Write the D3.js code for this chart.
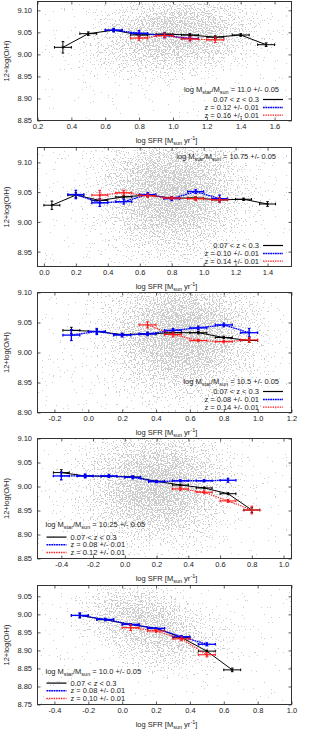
<!DOCTYPE html>
<html><head><meta charset="utf-8">
<script src="https://cdn.jsdelivr.net/npm/d3@7"></script>
<style>
body{margin:0;background:#fff}
svg{display:block}
text{font-family:"Liberation Sans",Arial,sans-serif;font-size:7.5px;fill:#222;white-space:pre}
</style>
</head><body>
<svg id="c" width="309" height="730"></svg>
<script>
// ---------- DATA: [logSFR, 12+log(O/H), yerr] ----------
const p1Black = [[0.35,9.016,0.013],[0.50,9.047,0.004],[0.65,9.055,0.003],[0.80,9.044,0.003],[0.95,9.046,0.003],[1.10,9.044,0.003],[1.25,9.039,0.003],[1.40,9.044,0.003],[1.55,9.022,0.004]];
const p1Blue  = [[0.65,9.055,0.004],[0.80,9.048,0.006],[0.95,9.043,0.005],[1.10,9.036,0.004]];
const p1Red   = [[0.80,9.037,0.005],[0.95,9.043,0.005],[1.10,9.035,0.005],[1.25,9.033,0.006]];

const p2Black = [[0.05,9.028,0.007],[0.20,9.045,0.004],[0.35,9.036,0.003],[0.50,9.042,0.002],[0.65,9.045,0.002],[0.80,9.040,0.002],[0.95,9.040,0.002],[1.10,9.037,0.002],[1.25,9.038,0.002],[1.40,9.030,0.004]];
const p2Blue  = [[0.20,9.046,0.007],[0.35,9.032,0.006],[0.50,9.034,0.004],[0.65,9.046,0.003],[0.80,9.039,0.003],[0.95,9.051,0.003],[1.10,9.039,0.006]];
const p2Red   = [[0.35,9.045,0.008],[0.50,9.049,0.004],[0.65,9.044,0.003],[0.80,9.040,0.002],[0.95,9.039,0.003],[1.10,9.037,0.004]];

const p3Black = [[-0.10,9.037,0.005],[0.05,9.035,0.003],[0.20,9.030,0.002],[0.35,9.031,0.002],[0.50,9.033,0.002],[0.65,9.033,0.002],[0.80,9.025,0.002],[0.95,9.020,0.003]];
const p3Blue  = [[-0.10,9.029,0.009],[0.05,9.035,0.005],[0.20,9.029,0.003],[0.35,9.031,0.003],[0.50,9.037,0.003],[0.65,9.041,0.003],[0.80,9.046,0.003],[0.95,9.033,0.007]];
const p3Red   = [[0.35,9.046,0.005],[0.50,9.030,0.004],[0.65,9.020,0.002],[0.80,9.018,0.002],[0.95,9.021,0.004]];

const p4Black = [[-0.40,9.029,0.006],[-0.25,9.022,0.003],[-0.10,9.021,0.002],[0.05,9.020,0.002],[0.20,9.011,0.002],[0.35,9.003,0.002],[0.50,8.997,0.002],[0.65,8.985,0.002],[0.80,8.951,0.005]];
const p4Blue  = [[-0.40,9.022,0.008],[-0.25,9.022,0.004],[-0.10,9.022,0.003],[0.05,9.019,0.003],[0.20,9.010,0.002],[0.35,9.012,0.002],[0.50,9.012,0.002],[0.65,9.013,0.004]];
const p4Red   = [[0.35,8.995,0.003],[0.50,8.988,0.003],[0.65,8.970,0.003],[0.80,8.951,0.008]];

const p5Black = [[-0.25,8.997,0.005],[-0.10,8.985,0.003],[0.05,8.972,0.002],[0.20,8.961,0.002],[0.35,8.936,0.003],[0.50,8.898,0.003],[0.65,8.846,0.005]];
const p5Blue  = [[-0.25,8.997,0.007],[-0.10,8.986,0.003],[0.05,8.972,0.002],[0.20,8.961,0.002],[0.35,8.938,0.003],[0.50,8.917,0.004]];
const p5Red   = [[0.05,8.963,0.008],[0.20,8.954,0.004],[0.35,8.932,0.005],[0.50,8.888,0.006]];

const binHalfWidth = 0.05;

// axis ranges and ticks
const xDomains = [[0.2,1.7],[-0.04,1.55],[-0.3,1.2],[-0.55,1.05],[-0.5,1.0]];
const yDomains = [[8.85,9.12],[8.925,9.125],[8.90,9.10],[8.85,9.10],[8.75,9.08]];
const xTicks = [[0.2,0.4,0.6,0.8,1.0,1.2,1.4,1.6],[0.0,0.2,0.4,0.6,0.8,1.0,1.2,1.4],[-0.2,0.0,0.2,0.4,0.6,0.8,1.0,1.2],[-0.4,-0.2,0.0,0.2,0.4,0.6,0.8,1.0],[-0.4,-0.2,0.0,0.2,0.4,0.6,0.8,1.0]];
const yTicks = [[8.85,8.90,8.95,9.00,9.05,9.10],[8.95,9.00,9.05,9.10],[8.90,8.95,9.00,9.05,9.10],[8.85,8.90,8.95,9.00,9.05,9.10],[8.75,8.80,8.85,8.90,8.95,9.00,9.05]];

// legend labels
const massLabels = ["11.0","10.75","10.5","10.25","10.0"];
const blackLabel = "0.07 < z < 0.3";
const blueLabels = ["z = 0.12 +/- 0.01","z = 0.10 +/- 0.01","z = 0.08 +/- 0.01","z = 0.08 +/- 0.01","z = 0.08 +/- 0.01"];
const redLabels  = ["z = 0.16 +/- 0.01","z = 0.14 +/- 0.01","z = 0.14 +/- 0.01","z = 0.12 +/- 0.01","z = 0.10 +/- 0.01"];

// background galaxy cloud, estimated density: [x, y, sx, sy, weight]
const cloud1 = [[1.05,9.05,0.30,0.06,0.85],[0.75,9.00,0.2,0.05,0.3]];
const cloud2 = [[0.80,9.05,0.30,0.07,0.95]];
const cloud3 = [[0.55,9.03,0.30,0.07,0.95]];
const cloud4 = [[0.20,9.00,0.30,0.08,0.95]];
const cloud5 = [[0.05,9.00,0.20,0.06,0.75],[0.30,8.93,0.20,0.06,0.65]];
const cloudBase = [0.1,0.11,0.11,0.1,0.08];

// ---------- LAYOUT ----------
const panels = [
  {black:p1Black,blue:p1Blue,red:p1Red,cloud:cloud1},
  {black:p2Black,blue:p2Blue,red:p2Red,cloud:cloud2},
  {black:p3Black,blue:p3Blue,red:p3Red,cloud:cloud3},
  {black:p4Black,blue:p4Blue,red:p4Red,cloud:cloud4},
  {black:p5Black,blue:p5Blue,red:p5Red,cloud:cloud5}
];
const PH = 146, L = 37.5, R = 291.5, B = 120.5;
const tops = [1.5,1.5,0.5,0.5,1.5];
const legendRight = [true,"top",true,false,false];
const titleY = [91.5,12.5,91.5,88.5,90];
const entryY = [[102,110,117.6],[102,110,117.6],[102,110,117.6],[101.6,109.3,117],[101.6,109.3,117]];

const style = {
  black:{stroke:"#000",dash:null,w:1},
  blue:{stroke:"#0000ff",dash:"1.8,0.6",w:1.3},
  red:{stroke:"#ff1a1a",dash:"1.4,1.0",w:1.1}
};

const svg = d3.select("#c");
const defs = svg.append("defs");
const rg = defs.append("radialGradient").attr("id","cg");
[[0,1],[0.35,0.75],[0.65,0.35],[0.85,0.1],[1,0]].forEach(s=>rg.append("stop").attr("offset",s[0]).attr("stop-color","#000").attr("stop-opacity",s[1]));

panels.forEach((p,i)=>{
  const g = svg.append("g").attr("transform",`translate(0,${i*PH})`);
  const top = tops[i];
  const x = d3.scaleLinear().domain(xDomains[i]).range([L,R]);
  const y = d3.scaleLinear().domain(yDomains[i]).range([B,top]);

  defs.append("clipPath").attr("id","cl"+i).append("rect").attr("x",L).attr("y",top).attr("width",R-L).attr("height",B-top);

  const f = defs.append("filter").attr("id","sp"+i).attr("filterUnits","userSpaceOnUse")
    .attr("x",L).attr("y",top).attr("width",R-L).attr("height",B-top)
    .attr("color-interpolation-filters","sRGB");
  f.append("feGaussianBlur").attr("in","SourceAlpha").attr("stdDeviation",3).attr("result","d");
  f.append("feTurbulence").attr("type","fractalNoise").attr("baseFrequency",0.73).attr("numOctaves",1).attr("seed",7+i).attr("result","n");
  f.append("feColorMatrix").attr("in","n").attr("type","matrix").attr("values","0 0 0 0 0  0 0 0 0 0  0 0 0 0 0  1 0 0 0 0").attr("result","na");
  f.append("feComposite").attr("in","na").attr("in2","d").attr("operator","arithmetic").attr("k1",0).attr("k2",5).attr("k3",1.7).attr("k4",-3.3).attr("result","s");
  const ct = f.append("feComponentTransfer").attr("in","s").attr("result","t");
  ct.append("feFuncA").attr("type","discrete").attr("tableValues","0 1");
  f.append("feFlood").attr("flood-color","#cdcdcd").attr("result","fl");
  f.append("feComposite").attr("in","fl").attr("in2","t").attr("operator","in");

  const cg = g.append("g").attr("clip-path",`url(#cl${i})`).append("g").attr("filter",`url(#sp${i})`);
  cg.append("rect").attr("x",L).attr("y",top).attr("width",R-L).attr("height",B-top).attr("fill","#000").attr("fill-opacity",cloudBase[i]);
  p.cloud.forEach(c=>{
    cg.append("ellipse").attr("cx",x(c[0])).attr("cy",y(c[1]))
      .attr("rx",Math.abs(x(c[0]+c[2])-x(c[0]))*2.2).attr("ry",Math.abs(y(c[1]+c[3])-y(c[1]))*2.2)
      .attr("fill","url(#cg)").attr("fill-opacity",c[4]);
  });

  const fmt = d3.format(".1f");
  const fmtY = d3.format(".2f");
  const ax = g.append("g").attr("transform",`translate(0,${B})`).call(d3.axisBottom(x).tickValues(xTicks[i]).tickFormat(d=>fmt(d).replace("−","-")).tickSizeInner(-3).tickSizeOuter(0).tickPadding(3.5));
  const axT = g.append("g").attr("transform",`translate(0,${top})`).call(d3.axisTop(x).tickValues(xTicks[i]).tickFormat("").tickSizeInner(-3).tickSizeOuter(0));
  const ay = g.append("g").attr("transform",`translate(${L},0)`).call(d3.axisLeft(y).tickValues(yTicks[i]).tickFormat(fmtY).tickSizeInner(-3).tickSizeOuter(0).tickPadding(5.5));
  const ayR = g.append("g").attr("transform",`translate(${R},0)`).call(d3.axisRight(y).tickValues(yTicks[i]).tickFormat("").tickSizeInner(-3).tickSizeOuter(0));
  [ax,axT,ay,ayR].forEach(a=>{
    a.select(".domain").remove();
    a.selectAll("line").attr("stroke","#333").attr("stroke-width",0.8);
    a.selectAll("text").attr("fill","#222").style("font-size","7.5px").style("font-family","'Liberation Sans',Arial,sans-serif");
  });

  const drawSeries = (data,st)=>{
    const sg = g.append("g");
    sg.append("path").datum(data)
      .attr("d",d3.line().x(d=>x(d[0])).y(d=>y(d[1])))
      .attr("fill","none").attr("stroke",st.stroke).attr("stroke-width",st.w).attr("stroke-dasharray",st.dash);
    const eg = sg.selectAll("g.e").data(data).join("g").attr("stroke",st.stroke).attr("stroke-width",st.w);
    eg.append("line").attr("x1",d=>x(d[0]-binHalfWidth)).attr("x2",d=>x(d[0]+binHalfWidth)).attr("y1",d=>y(d[1])).attr("y2",d=>y(d[1]));
    eg.append("line").attr("x1",d=>x(d[0])).attr("x2",d=>x(d[0])).attr("y1",d=>y(d[1]-d[2])).attr("y2",d=>y(d[1]+d[2]));
    const cap=1.3;
    eg.append("line").attr("x1",d=>x(d[0])-cap).attr("x2",d=>x(d[0])+cap).attr("y1",d=>y(d[1]-d[2])).attr("y2",d=>y(d[1]-d[2]));
    eg.append("line").attr("x1",d=>x(d[0])-cap).attr("x2",d=>x(d[0])+cap).attr("y1",d=>y(d[1]+d[2])).attr("y2",d=>y(d[1]+d[2]));
    eg.append("line").attr("x1",d=>x(d[0]-binHalfWidth)).attr("x2",d=>x(d[0]-binHalfWidth)).attr("y1",d=>y(d[1])-cap).attr("y2",d=>y(d[1])+cap);
    eg.append("line").attr("x1",d=>x(d[0]+binHalfWidth)).attr("x2",d=>x(d[0]+binHalfWidth)).attr("y1",d=>y(d[1])-cap).attr("y2",d=>y(d[1])+cap);
    eg.append("rect").attr("x",d=>x(d[0])-1).attr("y",d=>y(d[1])-1).attr("width",2).attr("height",2).attr("fill",st.stroke).attr("stroke","none");
  };
  drawSeries(p.black,style.black);
  drawSeries(p.blue,style.blue);
  drawSeries(p.red,style.red);

  g.append("rect").attr("x",L).attr("y",top).attr("width",R-L).attr("height",B-top).attr("fill","none").attr("stroke","#333").attr("stroke-width",1);

  g.append("text").attr("transform",`translate(9,${(top+B)/2}) rotate(-90)`).attr("text-anchor","middle").text("12+log(O/H)");
  const xl = g.append("text").attr("x",(L+R)/2+2).attr("y",142.5).attr("text-anchor","middle");
  xl.append("tspan").text("log SFR [M");
  xl.append("tspan").attr("dy",2).style("font-size","5.5px").text("sun");
  xl.append("tspan").attr("dy",-2).text(" yr");
  xl.append("tspan").attr("dy",-3).style("font-size","5.5px").text("-1");
  xl.append("tspan").attr("dy",3).text("]");

  const lr = legendRight[i];
  const tt = g.append("text").attr("y",titleY[i]);
  if (lr===true) tt.attr("x",279).attr("text-anchor","end");
  else if (lr==="top") tt.attr("x",276).attr("text-anchor","end");
  else tt.attr("x",45.5).attr("text-anchor","start");
  tt.append("tspan").text("log M");
  tt.append("tspan").attr("dy",2).style("font-size","5.5px").text("star");
  tt.append("tspan").attr("dy",-2).text("/M");
  tt.append("tspan").attr("dy",2).style("font-size","5.5px").text("sun");
  tt.append("tspan").attr("dy",-2).text(` = ${massLabels[i]} +/- 0.05`);

  const entries = [[blackLabel,style.black],[blueLabels[i],style.blue],[redLabels[i],style.red]];
  entries.forEach((e,k)=>{
    const yy = entryY[i][k];
    if (lr) {
      g.append("text").attr("x",259).attr("y",yy).attr("text-anchor","end").text(e[0]);
      g.append("line").attr("x1",263).attr("x2",283).attr("y1",yy-2.5).attr("y2",yy-2.5)
        .attr("stroke",e[1].stroke).attr("stroke-width",e[1].w+0.2).attr("stroke-dasharray",e[1].dash);
    } else {
      g.append("text").attr("x",70.5).attr("y",yy).attr("text-anchor","start").text(e[0]);
      g.append("line").attr("x1",46.5).attr("x2",66.5).attr("y1",yy-2.5).attr("y2",yy-2.5)
        .attr("stroke",e[1].stroke).attr("stroke-width",e[1].w+0.2).attr("stroke-dasharray",e[1].dash);
    }
  });
});
</script>
</body></html>
